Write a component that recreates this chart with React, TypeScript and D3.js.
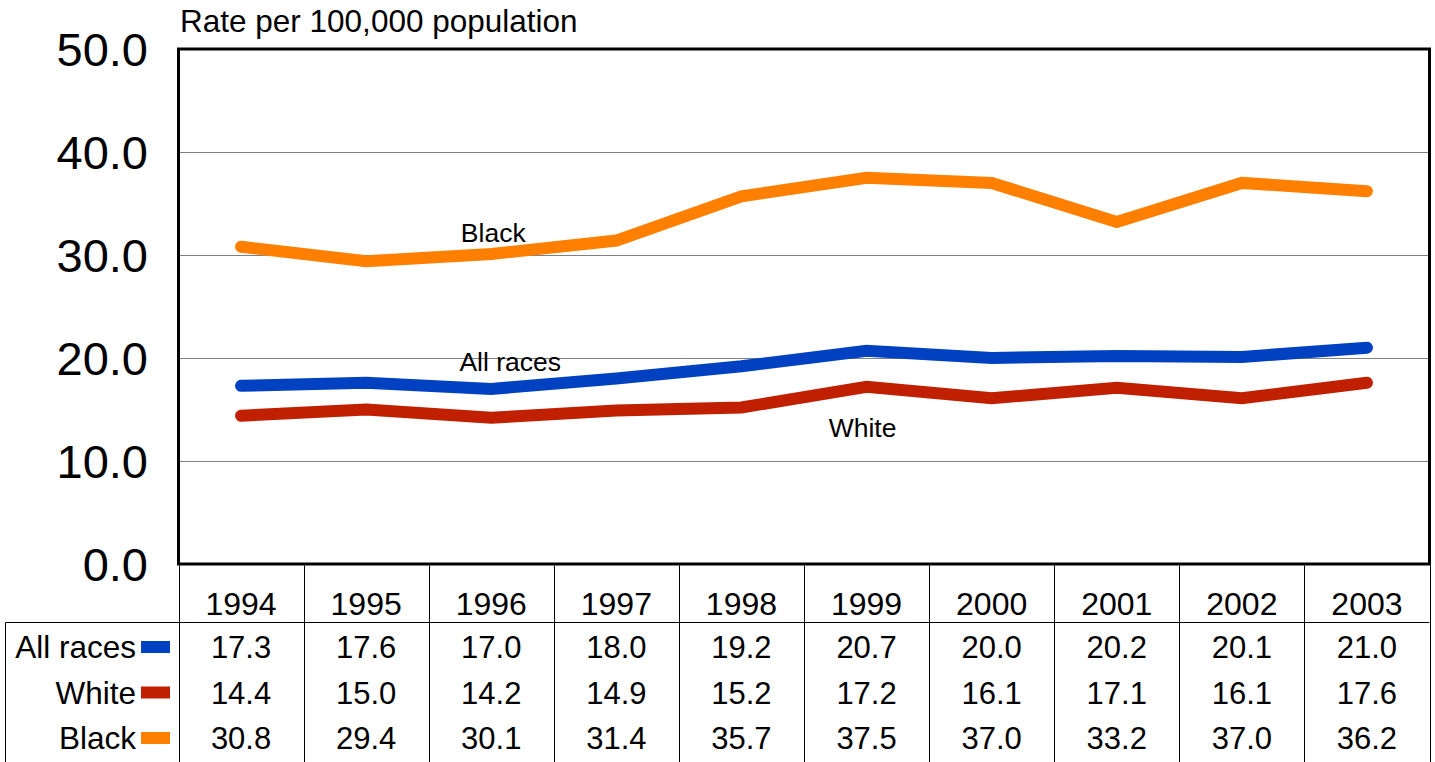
import React, { useEffect, useRef } from 'react';
import * as d3 from 'd3';

const years = ['1994', '1995', '1996', '1997', '1998', '1999', '2000', '2001', '2002', '2003'];
const allRaces = [17.3, 17.6, 17.0, 18.0, 19.2, 20.7, 20.0, 20.2, 20.1, 21.0];
const white = [14.4, 15.0, 14.2, 14.9, 15.2, 17.2, 16.1, 17.1, 16.1, 17.6];
const black = [30.8, 29.4, 30.1, 31.4, 35.7, 37.5, 37.0, 33.2, 37.0, 36.2];
const yTicks = [0, 10, 20, 30, 40, 50];

const seriesNames = ['All races', 'White', 'Black'];
const seriesColors = ['#0041c2', '#c01f00', '#ff8000'];

const FONT = '"Liberation Sans", Arial, Helvetica, sans-serif';

export default function App() {
  const svgRef = useRef<SVGSVGElement>(null);

  useEffect(() => {
    if (!svgRef.current) return;
    const svg = d3.select(svgRef.current);
    svg.selectAll('*').remove();

    const left = 178.5;
    const right = 1429.5;
    const top = 49;
    const bottom = 564;

    const x = d3.scaleBand<string>().domain(years).range([left, right]);
    const y = d3.scaleLinear().domain([0, 50]).range([bottom, top]);
    const cx = (d: string) => (x(d) ?? 0) + x.bandwidth() / 2;

    const series = [allRaces, white, black];

    // gridlines
    svg
      .append('g')
      .selectAll('line')
      .data(yTicks.filter((t) => t > 0 && t < 50))
      .join('line')
      .attr('x1', left)
      .attr('x2', right)
      .attr('y1', (d) => Math.round(y(d)) + 0.5)
      .attr('y2', (d) => Math.round(y(d)) + 0.5)
      .attr('stroke', '#808080')
      .attr('stroke-width', 1);

    // y tick labels
    svg
      .append('g')
      .attr('font-family', FONT)
      .attr('font-size', 47)
      .attr('text-anchor', 'end')
      .selectAll('text')
      .data(yTicks)
      .join('text')
      .attr('x', 148)
      .attr('y', (d) => y(d) + 17)
      .text((d) => d.toFixed(1));

    // title
    svg
      .append('text')
      .attr('x', 180)
      .attr('y', 32)
      .attr('font-family', FONT)
      .attr('font-size', 31.5)
      .text('Rate per 100,000 population');

    // lines
    const line = d3
      .line<number>()
      .x((_d, i) => cx(years[i]))
      .y((d) => y(d));

    series.forEach((vals, i) => {
      svg
        .append('path')
        .datum(vals)
        .attr('fill', 'none')
        .attr('stroke', seriesColors[i])
        .attr('stroke-width', 12)
        .attr('stroke-linecap', 'round')
        .attr('stroke-linejoin', 'miter')
        .attr('d', line);
    });

    // line labels
    const labels = [
      { text: 'Black', year: '1996', dx: 2, value: 31.3 },
      { text: 'All races', year: '1996', dx: 19, value: 18.7 },
      { text: 'White', year: '1999', dx: -4, value: 12.3 },
    ];
    svg
      .append('g')
      .attr('font-family', FONT)
      .attr('font-size', 26.5)
      .attr('text-anchor', 'middle')
      .selectAll('text')
      .data(labels)
      .join('text')
      .attr('x', (d) => cx(d.year) + d.dx)
      .attr('y', (d) => y(d.value))
      .text((d) => d.text);

    // plot frame
    svg
      .append('rect')
      .attr('x', left)
      .attr('y', top)
      .attr('width', right - left)
      .attr('height', bottom - top)
      .attr('fill', 'none')
      .attr('stroke', '#000')
      .attr('stroke-width', 3);

    // data table
    const tableTop = bottom + 1.5;
    const headerBottom = 622.5;
    const tableBottom = 762;
    const table = svg.append('g');

    table
      .selectAll('line.col')
      .data(d3.range(years.length + 1))
      .join('line')
      .attr('class', 'col')
      .attr('x1', (i) => Math.round(left + i * x.bandwidth()) + 0.5)
      .attr('x2', (i) => Math.round(left + i * x.bandwidth()) + 0.5)
      .attr('y1', tableTop)
      .attr('y2', tableBottom)
      .attr('stroke', '#000')
      .attr('stroke-width', 1);

    table
      .append('line')
      .attr('x1', 5.5)
      .attr('x2', right)
      .attr('y1', headerBottom)
      .attr('y2', headerBottom)
      .attr('stroke', '#000');

    table
      .append('line')
      .attr('x1', 5.5)
      .attr('x2', 5.5)
      .attr('y1', headerBottom)
      .attr('y2', tableBottom)
      .attr('stroke', '#000');

    // year header
    table
      .append('g')
      .attr('font-family', FONT)
      .attr('font-size', 32)
      .attr('text-anchor', 'middle')
      .selectAll('text')
      .data(years)
      .join('text')
      .attr('x', (d) => cx(d))
      .attr('y', 614.5)
      .text((d) => d);

    const rowY = [658, 703.5, 749];

    series.forEach((vals, r) => {
      const row = table
        .append('g')
        .attr('font-family', FONT)
        .attr('font-size', 31)
        .attr('text-anchor', 'middle');

      row
        .selectAll('text')
        .data(vals)
        .join('text')
        .attr('x', (_d, i) => cx(years[i]))
        .attr('y', rowY[r])
        .text((d) => d.toFixed(1));

      table
        .append('text')
        .attr('x', 136)
        .attr('y', rowY[r])
        .attr('font-family', FONT)
        .attr('font-size', 31.5)
        .attr('text-anchor', 'end')
        .text(seriesNames[r]);

      table
        .append('rect')
        .attr('x', 141)
        .attr('y', rowY[r] - 17)
        .attr('width', 29)
        .attr('height', 12)
        .attr('fill', seriesColors[r]);
    });
  }, []);

  return (
    <svg
      ref={svgRef}
      width={1435}
      height={762}
      style={{ position: 'absolute', left: 0, top: 0, background: '#fff' }}
    />
  );
}
